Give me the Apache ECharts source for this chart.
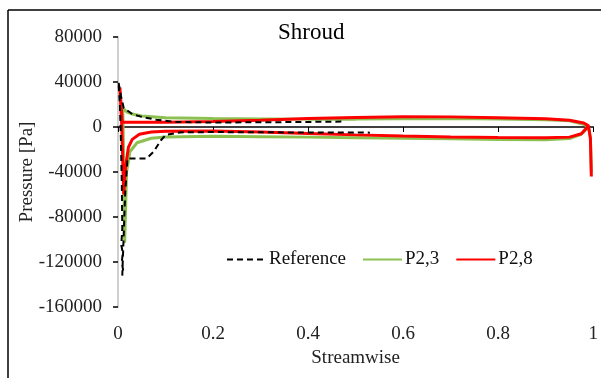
<!DOCTYPE html>
<html><head><meta charset="utf-8">
<script src="https://cdn.jsdelivr.net/npm/echarts@6/dist/echarts.min.js"></script>
<style>html,body{margin:0;padding:0;background:#fff}#c{width:601px;height:378px}</style>
</head><body><div id="c"></div>
<script>
// Data arrays: [streamwise, pressure]
const seriesNames = ['Reference', 'P2,3', 'P2,8'];
const xTicks = [0, 0.2, 0.4, 0.6, 0.8, 1];
const yTicks = [-160000, -120000, -80000, -40000, 0, 40000, 80000];

const referenceData = [
  [0.47, 4800], [0.4, 4500], [0.3, 4200], [0.2, 4000], [0.12, 4500], [0.08, 6500],
  [0.05, 9000], [0.03, 11500], [0.012, 17000], [0.006, 28000], [0.001, 40000],
  [0.004, 20000], [0.006, -10000], [0.008, -50000], [0.009, -90000], [0.007, -105000],
  [0.01, -112000], [0.008, -120000], [0.011, -128000], [0.009, -132000],
  [0.015, -60000], [0.02, -28000], [0.06, -28000], [0.075, -22000], [0.09, -12000],
  [0.1, -7000], [0.13, -4800], [0.2, -4500], [0.3, -4700], [0.4, -4900], [0.53, -5000]
];

const p23Data = [
  [0.996, -40000], [0.994, -10000], [0.99, 0], [0.98, 2500], [0.95, 5500], [0.9, 6500],
  [0.8, 7200], [0.7, 7500], [0.6, 7300], [0.5, 7000], [0.4, 7000], [0.3, 7200],
  [0.2, 7500], [0.1, 8300], [0.05, 9800], [0.03, 11500], [0.018, 13500], [0.01, 17000],
  [0.012, -30000], [0.014, -103000], [0.018, -40000], [0.025, -22000], [0.04, -14000],
  [0.07, -10000], [0.1, -8800], [0.2, -8300], [0.3, -8600], [0.4, -9000], [0.5, -9500],
  [0.6, -10000], [0.7, -10500], [0.8, -11200], [0.9, -11300], [0.95, -10200],
  [0.975, -6500], [0.99, 0]
];

const p28Data = [
  [0.996, -44000], [0.994, -10000], [0.99, 1000], [0.98, 3500], [0.95, 6000], [0.9, 7300],
  [0.8, 8300], [0.7, 9000], [0.6, 9200], [0.5, 8500], [0.4, 7500], [0.3, 6000],
  [0.2, 4800], [0.1, 4300], [0.03, 4200], [0.009, 4200], [0.004, 35000],
  [0.008, 0], [0.012, -60000], [0.016, -35000], [0.022, -18000], [0.03, -11000],
  [0.045, -6500], [0.07, -4500], [0.1, -3800], [0.2, -3500], [0.3, -4500], [0.4, -5800],
  [0.5, -7000], [0.6, -8000], [0.7, -8800], [0.8, -9300], [0.9, -9600], [0.95, -9000],
  [0.975, -6000], [0.99, 1000]
];

const FONT = 'Liberation Serif';
const chart = echarts.init(document.getElementById('c'), null, {renderer: 'canvas'});
chart.setOption({
  animation: false,
  backgroundColor: '#fff',
  title: {
    text: 'Shroud', left: 273, top: 16,
    textStyle: {fontFamily: FONT, fontSize: 23, fontWeight: 'normal', color: '#000'}
  },
  legend: {
    data: seriesNames, left: 221, top: 245, itemWidth: 39, itemHeight: 10, itemGap: 16,
    itemStyle: {opacity: 0},
    textStyle: {fontFamily: FONT, fontSize: 19, color: '#111', padding: [0, 0, 0, -2]}
  },
  grid: {left: 118, right: 6, top: 37, bottom: 71, containLabel: false},
  xAxis: {
    type: 'value', min: 0, max: 1, interval: 0.2,
    name: 'Streamwise', nameLocation: 'middle', nameGap: 40,
    nameTextStyle: {fontFamily: FONT, fontSize: 19, color: '#222'},
    axisLine: {show: true, lineStyle: {color: '#000', width: 1.5}},
    axisTick: {show: true, length: 5, lineStyle: {color: '#000'}},
    axisLabel: {fontFamily: FONT, fontSize: 19, color: '#222', margin: 18,
      formatter: v => String(+v.toFixed(1))},
    splitLine: {show: false}
  },
  yAxis: {
    type: 'value', min: -160000, max: 80000, interval: 40000,
    name: 'Pressure [Pa]', nameLocation: 'middle', nameGap: 81, nameMoveOverlap: false,
    nameTextStyle: {fontFamily: FONT, fontSize: 19, color: '#222'},
    axisLine: {show: true, onZero: false, lineStyle: {color: '#d0d0d0', width: 2}},
    axisTick: {show: true, length: 5, lineStyle: {color: '#000', width: 1.5}},
    axisLabel: {fontFamily: FONT, fontSize: 19, color: '#222', margin: 16,
      formatter: v => String(v)},
    splitLine: {show: false}
  },
  graphic: [
    {type: 'line', shape: {x1: 8, y1: 10, x2: 601, y2: 10}, style: {stroke: '#000', lineWidth: 1.5}},
    {type: 'line', shape: {x1: 8, y1: 10, x2: 8, y2: 378}, style: {stroke: '#000', lineWidth: 1.5}}
  ],
  series: [
    {name: 'P2,3', type: 'line', data: p23Data, showSymbol: false, symbol: 'none', z: 2,
      lineStyle: {color: '#8cc152', width: 3}, itemStyle: {color: '#8cc152'}},
    {name: 'P2,8', type: 'line', data: p28Data, showSymbol: false, symbol: 'none', z: 3,
      lineStyle: {color: '#ff0000', width: 3}, itemStyle: {color: '#ff0000'}},
    {name: 'Reference', type: 'line', data: referenceData, showSymbol: false, symbol: 'none', z: 4,
      lineStyle: {color: '#000', width: 2, type: [6, 4]}, itemStyle: {color: '#000'}}
  ]
});
</script></body></html>
